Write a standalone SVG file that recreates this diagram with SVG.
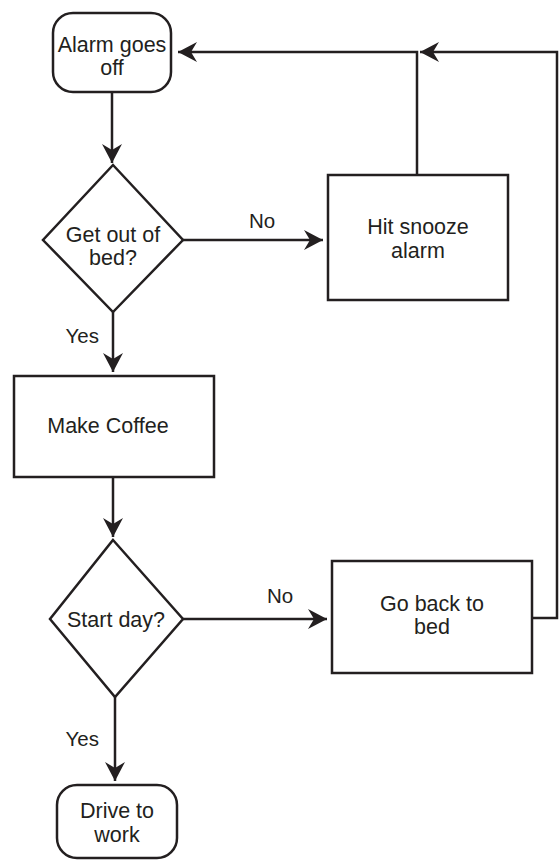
<svg xmlns="http://www.w3.org/2000/svg" width="560" height="860" viewBox="0 0 560 860">
  <defs>
    <marker id="arrow" markerUnits="userSpaceOnUse" markerWidth="24" markerHeight="24" viewBox="-20 -12 24 24" refX="0" refY="0" orient="auto">
      <path d="M0,0 L-19,-10 L-13,0 L-19,10 Z" fill="#231f20"/>
    </marker>
    <style>
      .shape { fill: #ffffff; stroke: #231f20; stroke-width: 2.5; }
      .line { fill: none; stroke: #231f20; stroke-width: 2.5; }
      .label { font-family: "Liberation Sans", Arial, sans-serif; font-size: 21.5px; fill: #231f20; text-anchor: middle; }
      .edge { font-family: "Liberation Sans", Arial, sans-serif; font-size: 20.5px; fill: #231f20; }
    </style>
  </defs>
  <rect width="560" height="860" fill="#ffffff"/>

  <!-- connectors -->
  <g id="connectors">
    <line class="line" x1="112" y1="92" x2="112" y2="163" marker-end="url(#arrow)"/>
    <line class="line" x1="183" y1="240" x2="323" y2="240" marker-end="url(#arrow)"/>
    <text class="edge" x="249" y="228">No</text>
    <polyline class="line" points="417,175 417,52 178,52" marker-end="url(#arrow)"/>
    <line class="line" x1="113" y1="312" x2="113" y2="372" marker-end="url(#arrow)"/>
    <text class="edge" x="99" y="343" text-anchor="end">Yes</text>
    <line class="line" x1="113" y1="477" x2="113" y2="537" marker-end="url(#arrow)"/>
    <line class="line" x1="183" y1="619" x2="327" y2="619" marker-end="url(#arrow)"/>
    <text class="edge" x="267" y="603">No</text>
    <polyline class="line" points="532,618 557,618 557,52 420,52" marker-end="url(#arrow)"/>
    <line class="line" x1="115" y1="697" x2="115" y2="781" marker-end="url(#arrow)"/>
    <text class="edge" x="99" y="746" text-anchor="end">Yes</text>
  </g>

  <g id="alarm">
    <rect class="shape" x="53" y="13" width="118" height="79" rx="20" ry="20"/>
    <text class="label" x="112" y="52">Alarm goes</text>
    <text class="label" x="112" y="75">off</text>
  </g>

  <g id="get-out-of-bed">
    <polygon class="shape" points="113,165 183,240 113,312 43,240"/>
    <text class="label" x="113" y="242">Get out of</text>
    <text class="label" x="113" y="265">bed?</text>
  </g>

  <g id="hit-snooze">
    <rect class="shape" x="328" y="175" width="180" height="125"/>
    <text class="label" x="418" y="234">Hit snooze</text>
    <text class="label" x="418" y="258">alarm</text>
  </g>

  <g id="make-coffee">
    <rect class="shape" x="14" y="376" width="200" height="101"/>
    <text class="label" x="108" y="433">Make Coffee</text>
  </g>

  <g id="start-day">
    <polygon class="shape" points="113,540 183,619 115,697 50,619"/>
    <text class="label" x="116" y="627">Start day?</text>
  </g>

  <g id="go-back-to-bed">
    <rect class="shape" x="332" y="561" width="200" height="112"/>
    <text class="label" x="432" y="611">Go back to</text>
    <text class="label" x="432" y="634">bed</text>
  </g>

  <g id="drive-to-work">
    <rect class="shape" x="57" y="785" width="120" height="73" rx="20" ry="20"/>
    <text class="label" x="117" y="818">Drive to</text>
    <text class="label" x="117" y="842">work</text>
  </g>
</svg>
